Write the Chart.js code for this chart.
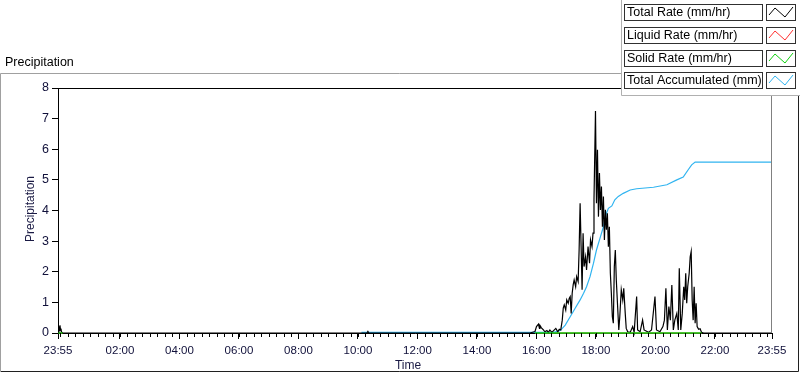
<!DOCTYPE html>
<html>
<head>
<meta charset="utf-8">
<script src="https://cdn.jsdelivr.net/npm/chart.js@4/dist/chart.umd.min.js"></script>
<style>
  html, body { margin: 0; padding: 0; background: #fff; }
  #wrap { width: 800px; height: 373px; position: relative; }
</style>
</head>
<body>
<div id="wrap"><canvas id="precip" width="800" height="373"></canvas></div>
<script>
// minutes from midnight; the day runs 23:55 -> 23:55
const rateTimes = [-5, -4, -3, -2, -1, 0, 1, 2, 4, 618, 620, 622, 947, 957, 960, 964, 966, 967, 970, 974, 977, 981, 984, 987, 991, 994, 999, 1003, 1006, 1009,
    1012, 1014, 1016, 1019, 1021, 1024, 1026, 1028, 1030, 1032, 1034, 1036, 1039, 1041, 1044, 1046, 1048, 1050, 1052, 1054, 1056, 1059, 1061, 1064, 1067, 1069,
    1072, 1074, 1076, 1079, 1081, 1083, 1085, 1087, 1089, 1091, 1093, 1095, 1097, 1099, 1101, 1103, 1105, 1107, 1109, 1111, 1113, 1115, 1117, 1119, 1121, 1123,
    1126, 1128, 1131, 1134, 1136, 1139, 1141, 1144, 1149, 1154, 1157, 1162, 1164, 1169, 1174, 1177, 1186, 1192, 1199, 1202, 1209, 1215, 1218, 1221, 1224, 1227,
    1230, 1233, 1236, 1239, 1243, 1246, 1248, 1251, 1254, 1257, 1259, 1261, 1263, 1265, 1268, 1270, 1272, 1274, 1276, 1278, 1280, 1282, 1284, 1287, 1290, 1293,
    1297, 1435];
const rateValues = [0, 0.12, 0.22, 0.08, 0.25, 0.1, 0.14, 0.04, 0, 0, 0.05, 0, 0, 0.05, 0.21, 0.29, 0.15, 0.25, 0.17, 0.1, 0.04, 0.08, 0.02, 0.1, 0.02, 0.07, 0.15, 0.04, 0.12, 0.1,
    0.42, 0.81, 0.92, 0.75, 1.08, 0.97, 1.13, 1.19, 0.64, 1.3, 1.57, 1.73, 1.51, 1.84, 1.68, 2.71, 4.24, 2.82, 1.41, 3.26, 2.17, 2.49, 2.06, 2.82, 2.28, 3.04,
    2.82, 3.26, 4.35, 7.25, 4.24, 5.98, 3.8, 5.22, 4.02, 4.78, 3.47, 4.46, 3.04, 4.02, 3.37, 3.91, 2.82, 3.47, 1.95, 1.3, 0.53, 0.32, 2.17, 2.71, 1.73, 1.08,
    0.1, 0.53, 1.41, 1.08, 1.46, 0.64, 0.15, 0.04, 0.02, 0.21, 0.02, 1.19, 0.1, 0.04, 0.42, 0.1, 0.02, 0.1, 1.19, 0.1, 0.04, 0.21, 0.42, 1.46, 0.1, 0.86,
    0.42, 1.57, 0.1, 0.42, 0.64, 0.1, 2.11, 0.1, 0.64, 1.51, 1.08, 1.95, 0.97, 1.51, 1.95, 2.49, 2.66, 1.08, 0.42, 1.51, 0.32, 0.97, 0.21, 0.12, 0.14, 0.02,
    0, 0];

const accumTimes = [607, 994, 1008, 1018, 1028, 1038, 1048, 1055, 1061, 1068, 1075, 1081, 1088, 1095, 1100, 1105, 1112, 1118, 1125, 1135, 1149, 1162, 1196, 1223,
    1243, 1256, 1266, 1273, 1280, 1435];
const accumValues = [0.02, 0.02, 0.08, 0.26, 0.53, 0.81, 1.08, 1.3, 1.51, 1.84, 2.28, 2.71, 3.09, 3.47, 3.86, 4.07, 4.15, 4.35, 4.46, 4.56, 4.67, 4.71, 4.76, 4.84,
    5.0, 5.09, 5.33, 5.49, 5.58, 5.58];

const solidTimes = [-4, 4, 500, 957, 1293];
const solidValues = [0, 0, null, 0, 0];
const liquidTimes = [-4, 4, 500, 957, 1293];
const liquidValues = [0, 0, null, 0, 0];

const tickMinutes = [-5, 120, 240, 360, 480, 600, 720, 840, 960, 1080, 1200, 1320, 1435];
const tickLabels = ['23:55', '02:00', '04:00', '06:00', '08:00', '10:00', '12:00', '14:00', '16:00', '18:00', '20:00', '22:00', '23:55'];

function pts(xs, ys) {
    return xs.map((x, i) => ({ x: x, y: ys[i] }));
}

const FONT = '"Liberation Sans", Arial, sans-serif';

// frame, titles, minor ticks and the legend panel
const decor = {
    id: 'decor',
    beforeDraw(chart) {
        const c = chart.ctx;
        c.save();
        c.fillStyle = '#fff';
        c.fillRect(0, 0, chart.width, chart.height);
        // outer sunken frame
        c.lineWidth = 1;
        c.strokeStyle = '#a0a0a0';
        c.beginPath();
        c.moveTo(0.5, 372); c.lineTo(0.5, 73.5); c.lineTo(799, 73.5);
        c.stroke();
        c.strokeStyle = '#202020';
        c.beginPath();
        c.moveTo(1, 371.5); c.lineTo(798.5, 371.5); c.lineTo(798.5, 74);
        c.stroke();
        c.fillStyle = '#000';
        c.font = '12.5px ' + FONT;
        c.textBaseline = 'middle';
        c.fillText('Precipitation', 5, 63);
        c.restore();
    },
    afterDraw(chart) {
        const c = chart.ctx;
        const a = chart.chartArea;
        const xs = chart.scales.x;
        c.save();
        c.lineWidth = 1;
        // plot box: top black, right gray
        c.strokeStyle = '#000';
        c.beginPath();
        c.moveTo(a.left, a.top + 0.5); c.lineTo(a.right, a.top + 0.5);
        c.stroke();
        c.strokeStyle = '#808080';
        c.beginPath();
        c.moveTo(a.right - 0.5, a.top + 1); c.lineTo(a.right - 0.5, a.bottom);
        c.stroke();
        // minor ticks every 15 minutes
        c.strokeStyle = '#000';
        c.beginPath();
        for (let m = 0; m <= 1425; m += 15) {
            const px = Math.round(xs.getPixelForValue(m)) + 0.5;
            c.moveTo(px, a.bottom); c.lineTo(px, a.bottom + 4);
        }
        c.stroke();
        // axis titles
        c.fillStyle = '#1a1a44';
        c.font = '12px ' + FONT;
        c.textAlign = 'center';
        c.textBaseline = 'middle';
        c.fillText('Time', 408, 366);
        c.translate(31, 209);
        c.rotate(-Math.PI / 2);
        c.fillText('Precipitation', 0, 0);
        c.restore();

        // legend panel
        c.save();
        c.fillStyle = '#fff';
        c.fillRect(621, 0, 179, 96);
        c.strokeStyle = '#b0b0b0';
        c.beginPath();
        c.moveTo(621.5, 0); c.lineTo(621.5, 95.5); c.lineTo(800, 95.5);
        c.stroke();
        c.font = '12.5px ' + FONT;
        c.textBaseline = 'middle';
        chart.data.datasets.forEach((ds, i) => {
            const sy = Math.round(4 + i * 22.8);
            c.strokeStyle = '#303030';
            c.strokeRect(624.5, sy + 0.5, 138, 16);
            c.strokeRect(766.5, sy + 0.5, 29, 16);
            c.fillStyle = '#000';
            c.fillText(ds.label, 627, sy + 9);
            c.strokeStyle = ds.borderColor;
            c.beginPath();
            c.moveTo(769, sy + 11); c.lineTo(775, sy + 4);
            c.lineTo(785, sy + 13); c.lineTo(793, sy + 3);
            c.stroke();
        });
        c.restore();
    }
};

const ctx = document.getElementById('precip');

new Chart(ctx, {
    type: 'line',
    data: {
        datasets: [
            {
                label: 'Total Rate (mm/hr)',
                data: pts(rateTimes, rateValues),
                borderColor: '#000000',
                borderWidth: 1.2,
                order: 1
            },
            {
                label: 'Liquid Rate (mm/hr)',
                data: pts(liquidTimes, liquidValues),
                borderColor: '#ff3030',
                borderWidth: 1,
                order: 3
            },
            {
                label: 'Solid Rate (mm/hr)',
                data: pts(solidTimes, solidValues),
                borderColor: '#10d010',
                borderWidth: 1.6,
                order: 0
            },
            {
                label: 'Total Accumulated (mm)',
                data: pts(accumTimes, accumValues),
                borderColor: '#30b4f0',
                borderWidth: 1.2,
                order: 2
            }
        ]
    },
    options: {
        responsive: false,
        animation: false,
        clip: 3,
        spanGaps: false,
        elements: {
            point: { radius: 0 },
            line: { tension: 0 }
        },
        layout: {
            padding: { left: 0, top: 88, right: 28, bottom: 0 }
        },
        scales: {
            x: {
                type: 'linear',
                min: -5,
                max: 1435,
                afterBuildTicks: (scale) => {
                    scale.ticks = tickMinutes.map(v => ({ value: v }));
                },
                afterFit: (scale) => { scale.height = 40; },
                ticks: {
                    autoSkip: false,
                    maxRotation: 0,
                    padding: 5,
                    color: '#10103a',
                    font: { family: FONT, size: 11.5 },
                    callback: (v) => {
                        const i = tickMinutes.indexOf(v);
                        return i >= 0 ? tickLabels[i] : '';
                    }
                },
                grid: {
                    drawOnChartArea: false,
                    drawTicks: true,
                    tickLength: 6,
                    color: '#000'
                },
                border: { color: '#000', width: 1 }
            },
            y: {
                min: 0,
                max: 8,
                afterFit: (scale) => { scale.width = 58; },
                ticks: {
                    stepSize: 1,
                    padding: 3,
                    color: '#10103a',
                    font: { family: FONT, size: 12.5 }
                },
                grid: {
                    drawOnChartArea: false,
                    drawTicks: true,
                    tickLength: 6,
                    color: '#000'
                },
                border: { color: '#000', width: 1 }
            }
        },
        plugins: {
            legend: { display: false },
            tooltip: { enabled: false }
        }
    },
    plugins: [decor]
});
</script>
</body>
</html>
